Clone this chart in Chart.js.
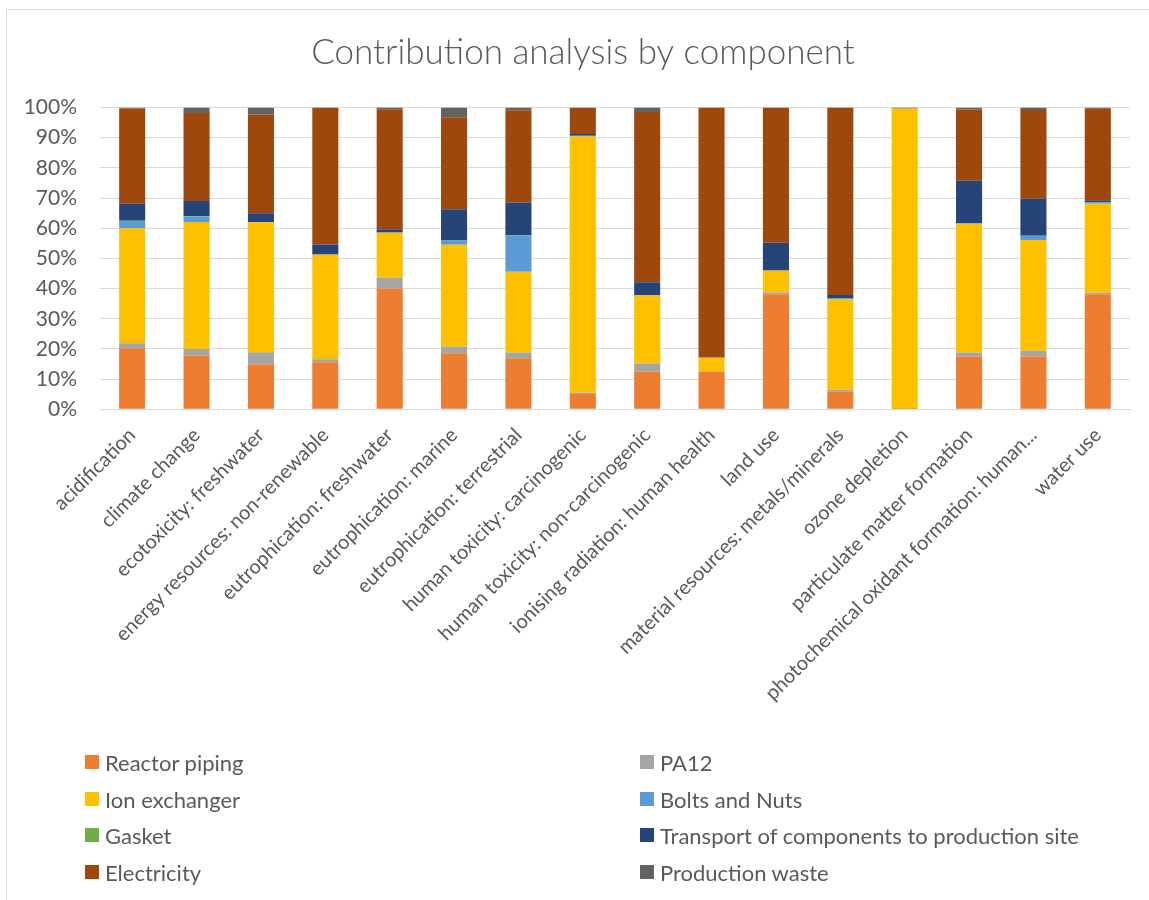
<!DOCTYPE html>
<html>
<head>
<meta charset="utf-8">
<script src="https://cdn.jsdelivr.net/npm/chart.js@4.4.1/dist/chart.umd.min.js"></script>
<style>
  html, body { margin: 0; padding: 0; background: #fff; overflow: hidden; }
  #frame { position: absolute; left: 6px; top: 9px; width: 1300px; height: 1000px; border: 1px solid #d9d9d9; }
  #wrap { position: absolute; left: 0; top: 0; width: 1149px; height: 900px; }
  #legend { position: absolute; left: 0; top: 0; width: 1149px; height: 900px; pointer-events: none;
            font-family: Lato, "Open Sans", sans-serif; font-size: 22px; color: #595959; }
  .item { position: absolute; display: flex; align-items: center; white-space: nowrap; height: 26px; }
  .box { width: 14px; height: 14px; margin-right: 6px; }
</style>
</head>
<body>
<div id="frame"></div>
<div id="wrap"><canvas id="chart" width="1149" height="900"></canvas></div>
<div id="legend"></div>
<script>
// Impact categories on the x axis
const categories = [
  "acidification",
  "climate change",
  "ecotoxicity: freshwater",
  "energy resources: non-renewable",
  "eutrophication: freshwater",
  "eutrophication: marine",
  "eutrophication: terrestrial",
  "human toxicity: carcinogenic",
  "human toxicity: non-carcinogenic",
  "ionising radiation: human health",
  "land use",
  "material resources: metals/minerals",
  "ozone depletion",
  "particulate matter formation",
  "photochemical oxidant formation: human...",
  "water use"
];

// Share of each component per category, in percent
const reactorPiping  = [20.2, 17.8, 14.9, 15.6, 40.0, 18.6, 16.9,  5.1, 12.5, 12.5, 38.1,  5.9,  0.1, 17.5, 17.5, 38.1];
const pa12           = [ 1.7,  2.2,  4.0,  1.0,  3.6,  2.1,  1.9,  0.4,  2.7,  0.1,  0.6,  0.6,  0.0,  1.3,  1.9,  0.5];
const ionExchanger   = [38.1, 42.1, 43.1, 34.6, 14.9, 33.8, 26.8, 84.9, 22.5,  4.5,  7.2, 29.9, 99.6, 42.7, 36.7, 29.5];
const boltsAndNuts   = [ 2.4,  1.8,  0.1,  0.1,  0.1,  1.4, 12.1,  0.2,  0.1,  0.0,  0.1,  0.3,  0.0,  0.2,  1.4,  0.5];
const gasket         = [ 0.1,  0.1,  0.0,  0.0,  0.0,  0.0,  0.0,  0.0,  0.0,  0.0,  0.0,  0.0,  0.0,  0.0,  0.0,  0.0];
const transport      = [ 5.6,  5.0,  2.9,  3.3,  1.1, 10.4, 10.8,  0.6,  4.3,  0.1,  9.2,  1.2,  0.1, 14.0, 12.3,  0.7];
const electricity    = [31.6, 29.2, 32.7, 45.3, 39.7, 30.5, 30.6,  8.6, 56.4, 82.8, 44.6, 62.0,  0.1, 23.6, 29.4, 30.3];
const productionWaste= [ 0.3,  1.8,  2.3,  0.1,  0.6,  3.2,  0.9,  0.2,  1.5,  0.0,  0.2,  0.1,  0.1,  0.7,  0.8,  0.4];

// Y axis ticks
const yTicks = [0, 10, 20, 30, 40, 50, 60, 70, 80, 90, 100];

const seriesNames = ["Reactor piping", "PA12", "Ion exchanger", "Bolts and Nuts", "Gasket",
                     "Transport of components to production site", "Electricity", "Production waste"];
const seriesValues = [reactorPiping, pa12, ionExchanger, boltsAndNuts, gasket, transport, electricity, productionWaste];
const seriesColors = ["#ED7D31", "#A5A5A5", "#FFC000", "#5B9BD5", "#70AD47", "#264478", "#9E480E", "#636363"];

const chartTitle = "Contribution analysis by component";

const FONT = "Lato, 'Open Sans', sans-serif";
const TEXT = "#595959";

const datasets = seriesNames.map((name, i) => ({
  label: name,
  data: seriesValues[i],
  backgroundColor: seriesColors[i],
  borderWidth: 0,
  categoryPercentage: 1.0,
  barPercentage: 0.405
}));

// Title centred over the whole chart frame rather than the plot box
const frameTitle = {
  id: "frameTitle",
  afterDraw(chart, args, opts) {
    const ctx = chart.ctx;
    ctx.save();
    ctx.fillStyle = opts.color;
    ctx.font = `${opts.weight} ${opts.size}px ${FONT}`;
    ctx.textAlign = "center";
    ctx.textBaseline = "middle";
    ctx.fillText(opts.text, opts.x, opts.y);
    ctx.restore();
  }
};

const chart = new Chart(document.getElementById("chart"), {
  type: "bar",
  data: { labels: categories, datasets },
  plugins: [frameTitle],
  options: {
    responsive: false,
    animation: false,
    layout: { padding: { top: 107.5, left: 0, right: 19, bottom: 0 } },
    plugins: {
      legend: { display: false },
      tooltip: { enabled: false },
      title: { display: false },
      frameTitle: { text: chartTitle, color: TEXT, size: 35, weight: 300, x: 583, y: 53 }
    },
    scales: {
      x: {
        stacked: true,
        grid: { display: false, drawTicks: false },
        border: { display: true, color: "#d9d9d9", width: 1 },
        ticks: {
          color: TEXT,
          font: { family: FONT, size: 20 },
          maxRotation: 45,
          minRotation: 45,
          autoSkip: false,
          padding: 14
        },
        afterFit: (scale) => { scale.height = 490.7; }
      },
      y: {
        stacked: true,
        min: 0,
        max: 100,
        afterBuildTicks: (scale) => { scale.ticks = yTicks.map(v => ({ value: v })); },
        grid: { color: "#d9d9d9", lineWidth: 1, drawTicks: false },
        border: { display: false },
        ticks: {
          color: TEXT,
          font: { family: FONT, size: 21 },
          padding: 23,
          callback: (v) => v + "%"
        },
        afterFit: (scale) => { scale.width = 100; }
      }
    }
  }
});

// Two-column legend below the chart, in series order
const legendEl = document.getElementById("legend");
const colX = [85, 640];
const rowY = [762, 799, 835, 872];
chart.data.datasets.forEach((ds, i) => {
  const item = document.createElement("div");
  item.className = "item";
  item.style.left = colX[i % 2] + "px";
  item.style.top = (rowY[Math.floor(i / 2)] - 13) + "px";
  const box = document.createElement("span");
  box.className = "box";
  box.style.background = ds.backgroundColor;
  const txt = document.createElement("span");
  txt.textContent = ds.label;
  item.appendChild(box);
  item.appendChild(txt);
  legendEl.appendChild(item);
});
</script>
</body>
</html>
